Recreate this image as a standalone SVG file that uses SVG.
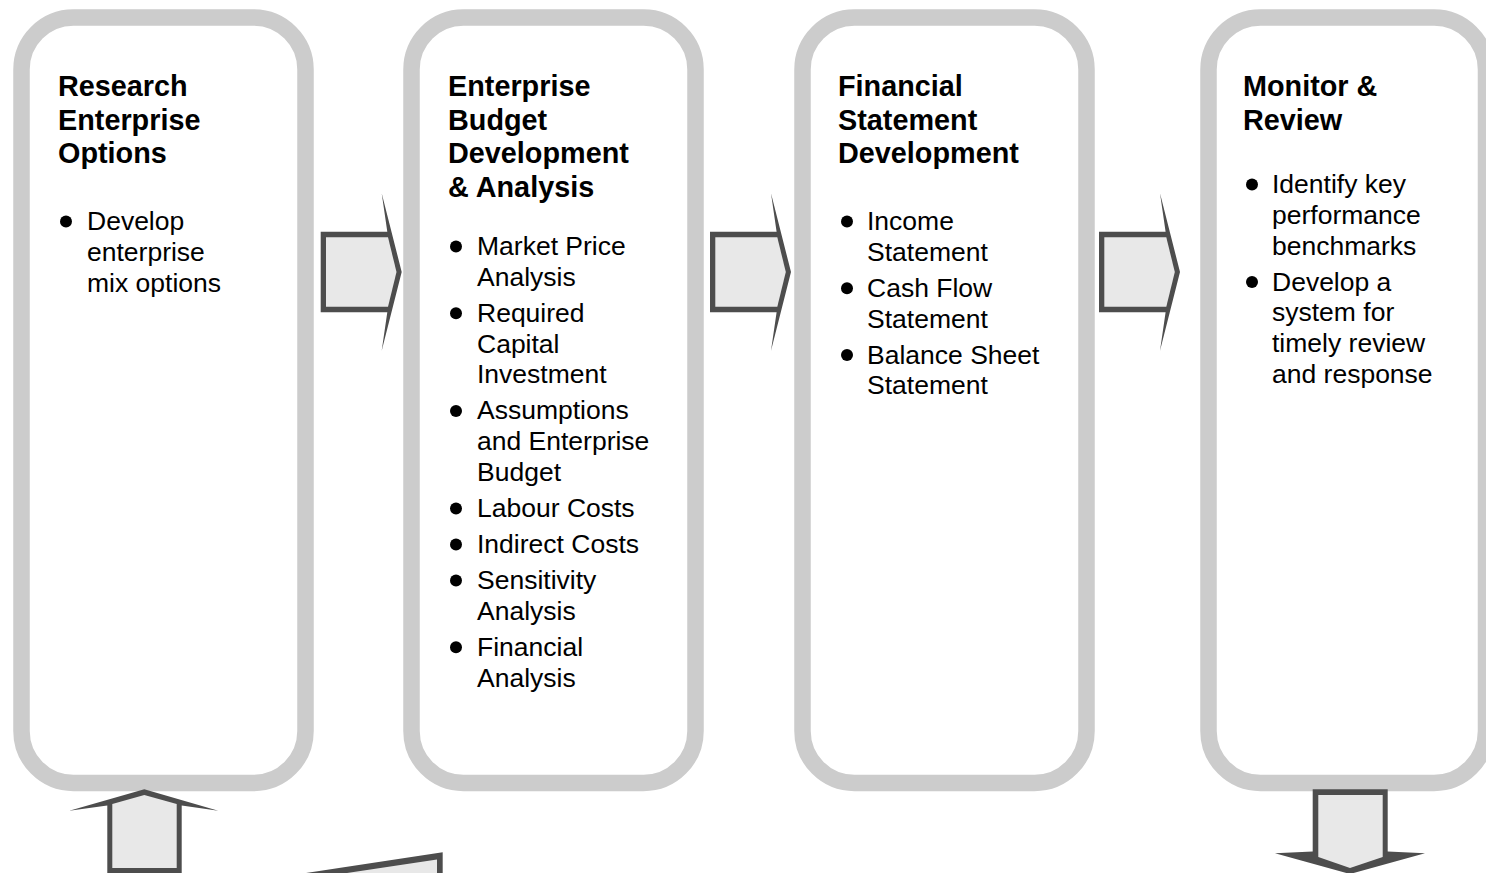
<svg xmlns="http://www.w3.org/2000/svg" xmlns:xlink="http://www.w3.org/1999/xlink" width="1486" height="873" viewBox="0 0 1486 873">
  <style>
    .stage { fill: #ffffff; stroke: #cccccc; stroke-width: 16.5; }
    .title { font-family: "Liberation Sans", Arial, sans-serif; font-weight: bold; font-size: 28.8px; fill: #000000; }
    .item { font-family: "Liberation Sans", Arial, sans-serif; font-size: 26.5px; fill: #000000; }
    .dot { fill: #000000; }
    .edge { fill: #4d4d4d; }
    .body { fill: #e8e8e8; }
  </style>
  <defs>
    <!-- right-pointing block arrow between stages -->
    <g id="step-arrow">
      <polygon class="edge" points="320.7,231.7 387.3,231.7 381.7,193.3 401.7,272 381.7,350.7 387.3,312.3 320.7,312.3"/>
      <polygon class="body" points="326,237.3 388,237.3 396.5,272 388,306.7 326,306.7"/>
    </g>
  </defs>

  <rect width="1486" height="873" fill="#ffffff"/>

  <!-- stage 1 -->
  <g id="research">
    <rect class="stage" x="21.5" y="17.5" width="284" height="765.5" rx="52" ry="52"/>
    <text class="title" x="58" y="96">Research</text>
    <text class="title" x="58" y="129.7">Enterprise</text>
    <text class="title" x="58" y="163.4">Options</text>
    <circle class="dot" cx="66" cy="221.5" r="6"/>
    <text class="item" x="87" y="230">Develop</text>
    <text class="item" x="87" y="260.8">enterprise</text>
    <text class="item" x="87" y="291.6">mix options</text>
  </g>

  <!-- stage 2 -->
  <g id="budget">
    <rect class="stage" x="411.5" y="17.5" width="284" height="765.5" rx="52" ry="52"/>
    <text class="title" x="448" y="96">Enterprise</text>
    <text class="title" x="448" y="129.7">Budget</text>
    <text class="title" x="448" y="163.4">Development</text>
    <text class="title" x="448" y="197.1">&amp; Analysis</text>
    <circle class="dot" cx="456" cy="246.5" r="6"/>
    <text class="item" x="477" y="255">Market Price</text>
    <text class="item" x="477" y="285.8">Analysis</text>
    <circle class="dot" cx="456" cy="313.3" r="6"/>
    <text class="item" x="477" y="321.8">Required</text>
    <text class="item" x="477" y="352.6">Capital</text>
    <text class="item" x="477" y="383.4">Investment</text>
    <circle class="dot" cx="456" cy="410.9" r="6"/>
    <text class="item" x="477" y="419.4">Assumptions</text>
    <text class="item" x="477" y="450.2">and Enterprise</text>
    <text class="item" x="477" y="481">Budget</text>
    <circle class="dot" cx="456" cy="508.5" r="6"/>
    <text class="item" x="477" y="517">Labour Costs</text>
    <circle class="dot" cx="456" cy="544.5" r="6"/>
    <text class="item" x="477" y="553">Indirect Costs</text>
    <circle class="dot" cx="456" cy="580.5" r="6"/>
    <text class="item" x="477" y="589">Sensitivity</text>
    <text class="item" x="477" y="619.8">Analysis</text>
    <circle class="dot" cx="456" cy="647.3" r="6"/>
    <text class="item" x="477" y="655.8">Financial</text>
    <text class="item" x="477" y="686.6">Analysis</text>
  </g>

  <!-- stage 3 -->
  <g id="statements">
    <rect class="stage" x="802.5" y="17.5" width="284" height="765.5" rx="52" ry="52"/>
    <text class="title" x="838" y="96">Financial</text>
    <text class="title" x="838" y="129.7">Statement</text>
    <text class="title" x="838" y="163.4">Development</text>
    <circle class="dot" cx="847" cy="221.5" r="6"/>
    <text class="item" x="867" y="230">Income</text>
    <text class="item" x="867" y="260.8">Statement</text>
    <circle class="dot" cx="847" cy="288.3" r="6"/>
    <text class="item" x="867" y="296.8">Cash Flow</text>
    <text class="item" x="867" y="327.6">Statement</text>
    <circle class="dot" cx="847" cy="355.1" r="6"/>
    <text class="item" x="867" y="363.6">Balance Sheet</text>
    <text class="item" x="867" y="394.4">Statement</text>
  </g>

  <!-- stage 4 -->
  <g id="monitor">
    <rect class="stage" x="1208.5" y="17.5" width="277.5" height="765.5" rx="52" ry="52"/>
    <text class="title" x="1243" y="96">Monitor &amp;</text>
    <text class="title" x="1243" y="129.7">Review</text>
    <circle class="dot" cx="1252" cy="184.5" r="6"/>
    <text class="item" x="1272" y="193">Identify key</text>
    <text class="item" x="1272" y="223.8">performance</text>
    <text class="item" x="1272" y="254.6">benchmarks</text>
    <circle class="dot" cx="1252" cy="282.1" r="6"/>
    <text class="item" x="1272" y="290.6">Develop a</text>
    <text class="item" x="1272" y="321.4">system for</text>
    <text class="item" x="1272" y="352.2">timely review</text>
    <text class="item" x="1272" y="383">and response</text>
  </g>

  <!-- connectors -->
  <g id="connectors">
    <use xlink:href="#step-arrow"/>
    <use xlink:href="#step-arrow" transform="translate(389.3,0)"/>
    <use xlink:href="#step-arrow" transform="translate(778.3,0)"/>
    <!-- up arrow into stage 1 -->
    <polygon class="edge" points="144.3,789.3 218.3,810.7 181.7,805.5 181.7,873 107.3,873 107.3,805.5 69.3,810.7"/>
    <polygon class="body" points="144.3,795 176.7,804 176.7,868 112.3,868 112.3,804"/>
    <!-- slanted arrow entering from below -->
    <polygon class="edge" points="306,873 442.7,852.3 442.7,873"/>
    <polygon class="body" points="347,873 437,859.6 437,873"/>
    <!-- down arrow out of stage 4 -->
    <polygon class="edge" points="1312.7,789.3 1387.7,789.3 1387.7,851.5 1425,853.3 1350,874 1275,853.3 1312.7,851.5"/>
    <polygon class="body" points="1318.3,795 1382.7,795 1382.7,857 1350,868 1318.3,857"/>
  </g>
</svg>
